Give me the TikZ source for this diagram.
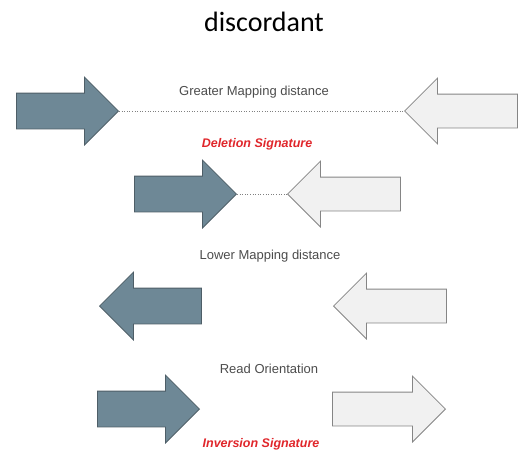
\documentclass[tikz,border=0pt]{standalone}
\usepackage{fontspec}
\setmainfont{Liberation Sans}
\newfontfamily\titlefont{Carlito}
\usepackage{tikz}
\usetikzlibrary{ shapes.arrows, % For the block arrows
                 positioning,   % For easy node-relative placements
               }
\definecolor{slate}{HTML}{6E8896}
\definecolor{slateline}{HTML}{4E5E67}
\definecolor{pale}{HTML}{F1F1F1}
\definecolor{paleline}{HTML}{858585}
\definecolor{sigred}{HTML}{E0262B}
\tikzstyle{read} = [single arrow, single arrow tip angle=90, inner xsep=0pt, line width=0.8pt, anchor=tip]
\tikzstyle{fwd} = [read, fill=slate, draw=slateline, minimum height=102pt, inner ysep=17.5pt, single arrow head extend=16pt]
\tikzstyle{mate} = [read, fill=pale, draw=paleline, minimum height=113pt, inner ysep=16.5pt, single arrow head extend=16pt]
\tikzstyle{flip} = [shape border rotate=180]
\tikzstyle{gap} = [dotted, gray, line width=0.6pt]
\tikzstyle{caption} = [anchor=base, text=black!70, font=\fontsize{13}{15}\selectfont]
\tikzstyle{signature} = [anchor=base, text=sigred, font=\fontsize{12.5}{14}\selectfont\bfseries\itshape]

\begin{document}
\begin{tikzpicture}[x=1pt, y=-1pt]
  \useasboundingbox (0, 0) rectangle (524, 451);
  \node (title) [anchor=base, font=\titlefont\fontsize{28}{32}\selectfont] at (264, 31) {discordant};

  % deletion: reads far apart
  \node (far) [caption] at (254, 95) {Greater Mapping distance};
  \node (a1) [fwd] at (119, 111) {};
  \node (b1) [mate, flip] at (404, 111) {};
  \draw [gap] (a1.tip) -- (b1.tip);
  \node (del) [signature] at (257, 147) {Deletion Signature};

  \node (a2) [fwd] at (237, 194) {};
  \node (b2) [mate, flip] at (287, 194) {};
  \draw [gap] (a2.tip) -- (b2.tip);

  % inversion: same orientation
  \node (near) [caption] at (270, 259) {Lower Mapping distance};
  \node (a3) [fwd, flip] at (99, 306) {};
  \node (b3) [mate, flip] at (333, 306) {};

  \node (orient) [caption] at (269, 373) {Read Orientation};
  \node (a4) [fwd] at (200, 409) {};
  \node (b4) [mate] at (446, 409) {};
  \node (inv) [signature] at (261, 447) {Inversion Signature};
\end{tikzpicture}
\end{document}
